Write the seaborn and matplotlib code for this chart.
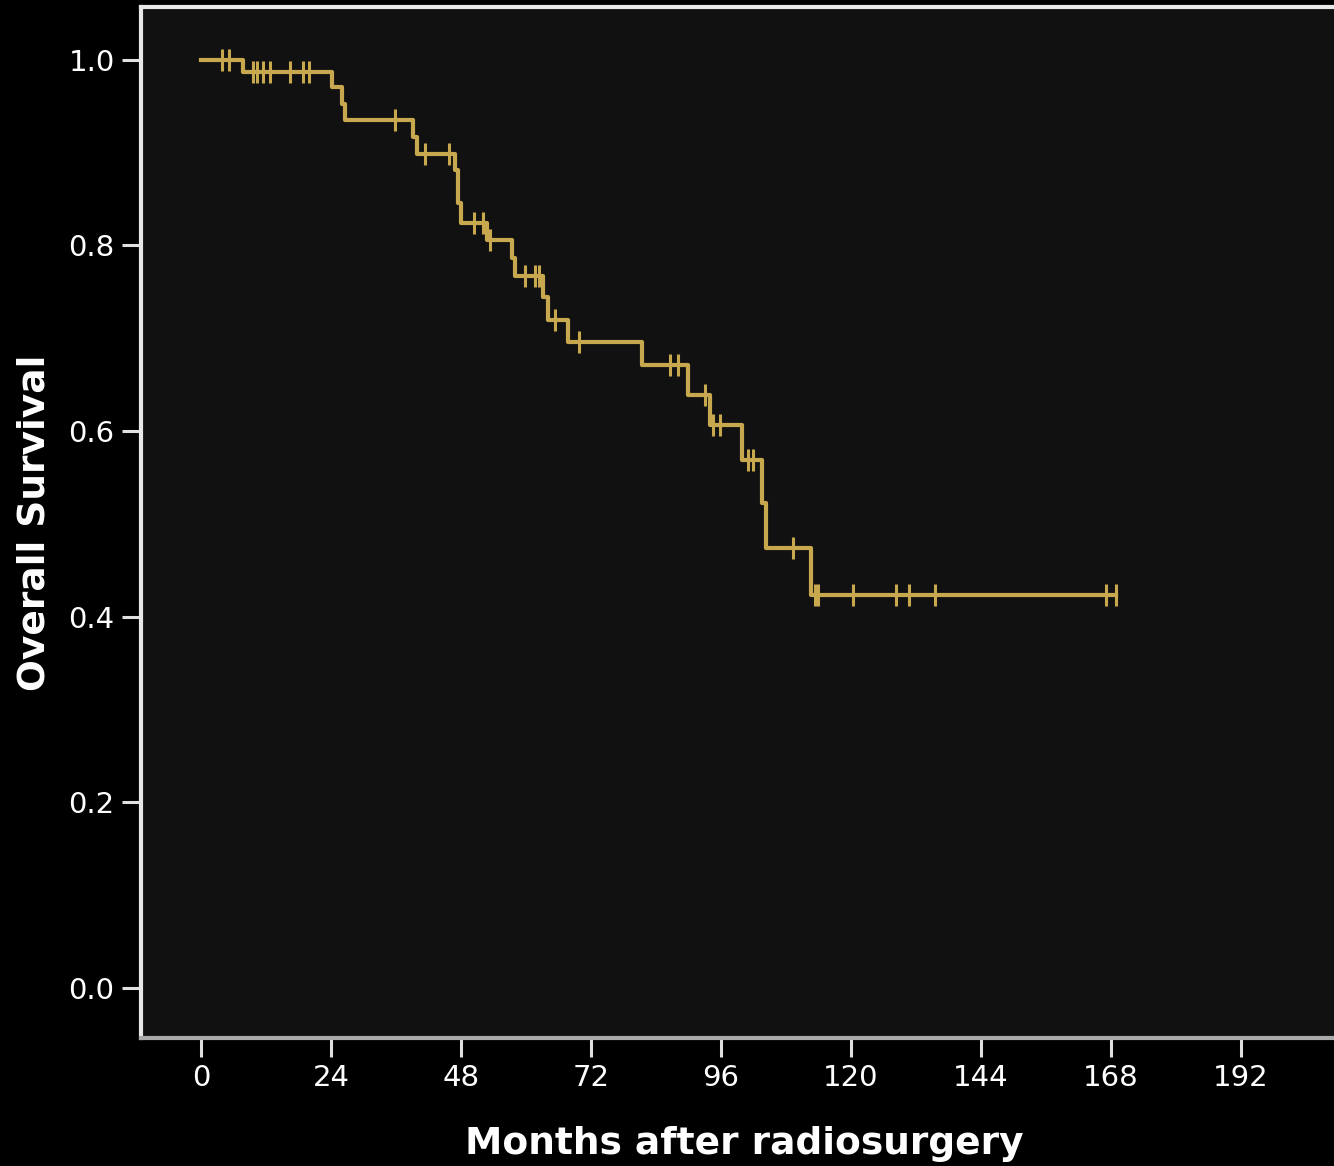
import numpy as np
import pandas as pd
import seaborn as sns
import matplotlib.pyplot as plt

# Kaplan-Meier estimates
event_months = [0, 7.8, 24.1, 26.0, 26.5, 39.1, 39.8, 46.9, 47.5, 48.0, 52.7, 57.4, 58.0,
                63.2, 64.1, 67.8, 81.4, 90.0, 93.9, 99.8, 103.5, 104.4, 112.7]
event_surv = [1.0, 0.987, 0.971, 0.953, 0.935, 0.917, 0.899, 0.881, 0.846, 0.824, 0.806, 0.786, 0.767,
              0.745, 0.720, 0.696, 0.671, 0.639, 0.607, 0.569, 0.522, 0.474, 0.423]
censor_months = [3.8, 5.2, 9.6, 10.4, 11.5, 12.8, 16.4, 18.8, 19.9, 35.8, 41.4, 45.7,
                 50.3, 52.1, 53.4, 59.8, 61.6, 62.4, 65.3, 69.7, 86.6, 88.1, 93.0, 94.6, 95.8,
                 101.0, 102.0, 109.3, 113.3, 114.0, 120.3, 128.3, 130.8, 135.6, 167.1, 168.9]

xticks = [0, 24, 48, 72, 96, 120, 144, 168, 192]
yticks = [0.0, 0.2, 0.4, 0.6, 0.8, 1.0]

# step curve runs until the last censored patient
curve = pd.DataFrame({"month": event_months + [censor_months[-1]],
                      "surv": event_surv + [event_surv[-1]]})
idx = np.searchsorted(event_months, censor_months, side="right") - 1
marks = pd.DataFrame({"month": censor_months, "surv": np.array(event_surv)[idx]})

gold = "#C8A84F"

fig = plt.figure(figsize=(13.34, 11.66), dpi=100, facecolor="black")
ax = fig.add_axes([0.1057, 0.1098, 0.8943, 0.8842])
ax.set_facecolor("#111111")

sns.lineplot(data=curve, x="month", y="surv", drawstyle="steps-post", estimator=None,
             sort=False, color=gold, linewidth=3, ax=ax)
sns.scatterplot(data=marks, x="month", y="surv", marker="|", s=230, color=gold,
                linewidth=2.2, ax=ax, zorder=3)

ax.set_xlim(-11.1, 209.2)
ax.set_ylim(-0.054, 1.057)
ax.set_xticks(xticks)
ax.set_yticks(yticks)
ax.set_xticklabels([str(t) for t in xticks])
ax.set_yticklabels([f"{t:.1f}" for t in yticks])

for lab in ax.get_xticklabels() + ax.get_yticklabels():
    lab.set_family("DejaVu Sans")
    lab.set_fontsize(21)
    lab.set_color("white")
ax.tick_params(axis="both", length=14, width=2.2, color="#e0e0e0", direction="out", pad=5)

for side in ["left", "top"]:
    ax.spines[side].set_color("#e8e8e8")
    ax.spines[side].set_linewidth(3)
ax.spines["bottom"].set_color("#aaaaaa")
ax.spines["bottom"].set_linewidth(3)
ax.spines["right"].set_visible(False)

ax.set_xlabel("Months after radiosurgery", fontsize=27, fontweight="bold", color="white",
              family="DejaVu Sans")
ax.set_ylabel("Overall Survival", fontsize=27, fontweight="bold", color="white",
              family="DejaVu Sans")
ax.yaxis.set_label_coords(-0.074, 0.5)
ax.xaxis.set_label_coords(0.506, -0.085)

fig.savefig("out.png", dpi=100, facecolor="black")
